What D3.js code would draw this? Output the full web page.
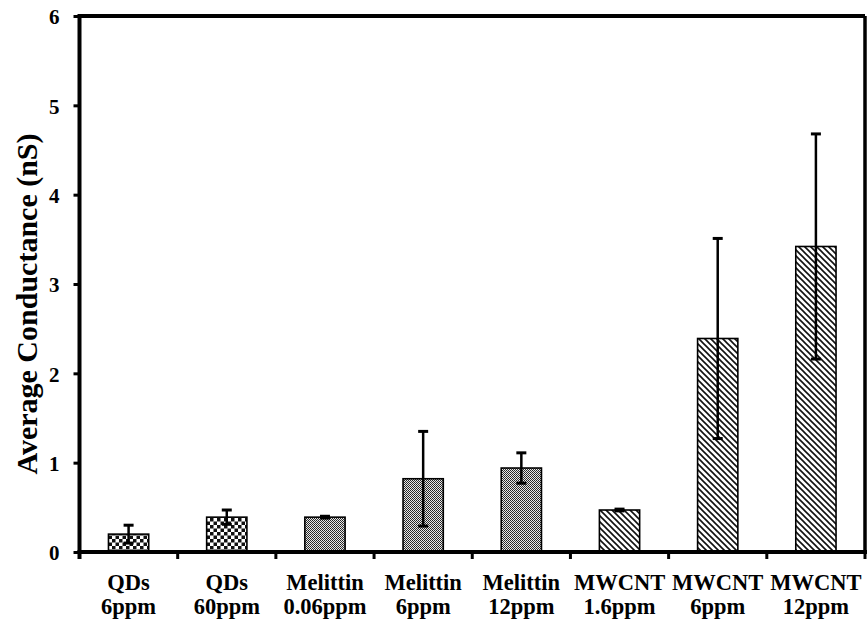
<!DOCTYPE html>
<html>
<head>
<meta charset="utf-8">
<script src="https://cdn.jsdelivr.net/npm/d3@7"></script>
<style>
  html, body { margin: 0; padding: 0; background: #fff; }
  svg { display: block; }
  text { font-family: "Liberation Serif", "Times New Roman", serif; font-weight: bold; fill: #000; }
</style>
</head>
<body>
<svg id="chart" width="867" height="621"></svg>
<script>
// ---- data ----
const labelLine1 = ["QDs", "QDs", "Melittin", "Melittin", "Melittin", "MWCNT", "MWCNT", "MWCNT"];
const labelLine2 = ["6ppm", "60ppm", "0.06ppm", "6ppm", "12ppm", "1.6ppm", "6ppm", "12ppm"];
const values = [0.20, 0.39, 0.39, 0.82, 0.94, 0.47, 2.39, 3.42];
const errors = [0.10, 0.08, 0.01, 0.53, 0.17, 0.01, 1.12, 1.26];
const fills = ["checker", "checker", "dots", "dots", "dots", "hatch", "hatch", "hatch"];
const yTicks = [0, 1, 2, 3, 4, 5, 6];
const yTitle = "Average Conductance (nS)";

const categories = labelLine1.map((d, i) => d + " " + labelLine2[i]);

const svg = d3.select("#chart");
const pLeft = 79.5, pRight = 865, pTop = 16, pBottom = 552;

const x = d3.scaleBand().domain(categories).range([pLeft, pRight])
  .paddingInner(0.59).paddingOuter(0.295);
const y = d3.scaleLinear().domain([0, 6]).range([pBottom, pTop]);

// patterns
const defs = svg.append("defs");
const pc = defs.append("pattern").attr("id", "checker").attr("patternUnits", "userSpaceOnUse")
  .attr("width", 7).attr("height", 7);
pc.append("rect").attr("width", 7).attr("height", 7).attr("fill", "#fff");
pc.append("rect").attr("width", 3.5).attr("height", 3.5).attr("fill", "#111");
pc.append("rect").attr("x", 3.5).attr("y", 3.5).attr("width", 3.5).attr("height", 3.5).attr("fill", "#111");

const pd = defs.append("pattern").attr("id", "dots").attr("patternUnits", "userSpaceOnUse")
  .attr("width", 2).attr("height", 2);
pd.append("rect").attr("width", 2).attr("height", 2).attr("fill", "#e8e8e8");
pd.append("rect").attr("width", 1).attr("height", 1).attr("fill", "#222");
pd.append("rect").attr("x", 1).attr("y", 1).attr("width", 1).attr("height", 1).attr("fill", "#333");

const ph = defs.append("pattern").attr("id", "hatch").attr("patternUnits", "userSpaceOnUse")
  .attr("width", 6).attr("height", 6);
ph.append("rect").attr("width", 6).attr("height", 6).attr("fill", "#fff");
ph.append("path").attr("d", "M-1,-1 L7,7 M-1,5 L1,7 M5,-1 L7,1")
  .attr("stroke", "#111").attr("stroke-width", 1.6);

// bars
svg.append("g").selectAll("rect").data(categories).join("rect")
  .attr("x", d => x(d))
  .attr("y", (d, i) => y(values[i]))
  .attr("width", x.bandwidth())
  .attr("height", (d, i) => y(0) - y(values[i]))
  .attr("fill", (d, i) => `url(#${fills[i]})`)
  .attr("stroke", "#000").attr("stroke-width", 1.6);

// error bars
const eb = svg.append("g").attr("stroke", "#000");
categories.forEach((c, i) => {
  const cx = x(c) + x.bandwidth() / 2;
  const hi = y(values[i] + errors[i]), lo = y(values[i] - errors[i]);
  eb.append("line").attr("x1", cx).attr("x2", cx).attr("y1", hi).attr("y2", lo).attr("stroke-width", 2.5);
  eb.append("line").attr("x1", cx - 5).attr("x2", cx + 5).attr("y1", hi).attr("y2", hi).attr("stroke-width", 3);
  eb.append("line").attr("x1", cx - 5).attr("x2", cx + 5).attr("y1", lo).attr("y2", lo).attr("stroke-width", 3);
});

// frame: top and right
svg.append("line").attr("x1", pLeft).attr("x2", pRight).attr("y1", pTop).attr("y2", pTop)
  .attr("stroke", "#000").attr("stroke-width", 4);
svg.append("line").attr("x1", pRight).attr("x2", pRight).attr("y1", pTop).attr("y2", pBottom)
  .attr("stroke", "#000").attr("stroke-width", 3.5);

// y axis
const yAxis = svg.append("g").attr("transform", `translate(${pLeft},0)`)
  .call(d3.axisLeft(y).tickValues(yTicks).tickFormat(d3.format("d")).tickSize(6).tickPadding(14));
yAxis.attr("font-family", null);
yAxis.select(".domain").attr("stroke-width", 4).attr("d", `M0,${pBottom + 7}V${pTop - 2}`);
yAxis.selectAll(".tick line").attr("stroke-width", 3);
yAxis.selectAll(".tick text").attr("font-size", 21).attr("dy", "0.38em");

// x axis
const xAxis = svg.append("g").attr("transform", `translate(0,${pBottom})`)
  .call(d3.axisBottom(x).tickSize(0).tickFormat(() => ""));
xAxis.select(".domain").attr("stroke-width", 4).attr("d", `M${pLeft - 2},0H${pRight + 2}`);
const bounds = d3.range(categories.length + 1).map(i => pLeft + i * x.step());
xAxis.selectAll("line.sep").data(bounds).join("line").attr("class", "sep")
  .attr("x1", d => d).attr("x2", d => d).attr("y1", 0).attr("y2", 7)
  .attr("stroke", "#000").attr("stroke-width", 3);

const lbl = svg.append("g").attr("font-size", 22.5).attr("text-anchor", "middle");
categories.forEach((c, i) => {
  const t = lbl.append("text").attr("x", x(c) + x.bandwidth() / 2).attr("y", 590);
  t.append("tspan").attr("x", x(c) + x.bandwidth() / 2).text(labelLine1[i]);
  t.append("tspan").attr("x", x(c) + x.bandwidth() / 2).attr("dy", 24).text(labelLine2[i]);
});

// y title
svg.append("text").attr("transform", "translate(37,304) rotate(-90)")
  .attr("text-anchor", "middle").attr("font-size", 30).text(yTitle);
</script>
</body>
</html>
